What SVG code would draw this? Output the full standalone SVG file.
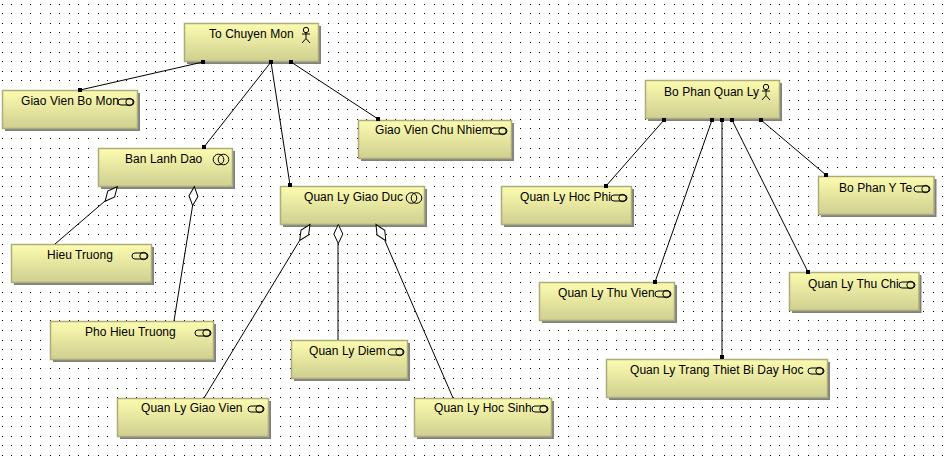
<svg xmlns="http://www.w3.org/2000/svg" width="952" height="460" viewBox="0 0 952 460">
<style>
.box{fill:url(#g);stroke:#adad7c;stroke-width:1.500}
.sh{fill:#808080}
.t{font:12px "Liberation Sans",Arial,sans-serif;fill:#000;letter-spacing:.05px}
.c{fill:none;stroke:#000;stroke-width:1}
.i{fill:none;stroke:#000;stroke-width:1}
</style>
<defs>
<pattern id="d" width="48" height="48" patternUnits="userSpaceOnUse"><path shape-rendering="crispEdges" fill="#000" d="M2,4h1v1h-1zM11,4h1v1h-1zM21,4h1v1h-1zM30,4h1v1h-1zM40,4h1v1h-1zM2,13h1v1h-1zM11,13h1v1h-1zM21,13h1v1h-1zM30,13h1v1h-1zM40,13h1v1h-1zM2,23h1v1h-1zM11,23h1v1h-1zM21,23h1v1h-1zM30,23h1v1h-1zM40,23h1v1h-1zM2,32h1v1h-1zM11,32h1v1h-1zM21,32h1v1h-1zM30,32h1v1h-1zM40,32h1v1h-1zM2,42h1v1h-1zM11,42h1v1h-1zM21,42h1v1h-1zM30,42h1v1h-1zM40,42h1v1h-1z"/></pattern>
<linearGradient id="g" x1="0" y1="0" x2="0" y2="1"><stop offset="0" stop-color="#fcfcb0"/><stop offset="1" stop-color="#cfcf90"/></linearGradient>
<marker id="dot" markerWidth="6" markerHeight="6" refX="3" refY="3" markerUnits="userSpaceOnUse"><rect x="1" y="1" width="4" height="4" fill="#000"/></marker>
<g id="oo"><circle cx="-2.500" cy="0" r="5.300" class="i"/><circle cx="2.500" cy="0" r="5.300" class="i"/></g>
<g id="cc"><rect x="-8" y="-3" width="16" height="6" rx="3" class="i"/><circle cx="3.500" cy="0" r="3.700" class="i"/></g>
<g id="actor"><circle cx="0" cy="-5" r="2.700" class="i"/><path class="i" d="M-4,-1H4M0,-2V3.500L-4,8M0,3.500L4,8"/></g>
<polygon id="dia" points="0,0 4.500,9.500 0,19 -4.500,9.500" fill="#fff" stroke="#000"/>
</defs>
<rect width="952" height="460" fill="#fff"/>
<rect width="952" height="460" fill="url(#d)"/>
<g id="n1"><rect class="sh" x="187" y="26" width="134" height="38"/><rect class="box" x="184.500" y="23.500" width="134" height="38"/><text class="t" x="209" y="38">To Chuyen Mon</text><use href="#actor" transform="translate(306,35)"/></g>
<g id="n2"><rect class="sh" x="5" y="93" width="135" height="38"/><rect class="box" x="2.500" y="90.500" width="135" height="38"/><text class="t" x="21" y="105">Giao Vien Bo Mon</text><use href="#cc" transform="translate(126,102)"/></g>
<g id="n3"><rect class="sh" x="101" y="151" width="134" height="38"/><rect class="box" x="98.500" y="148.500" width="134" height="38"/><text class="t" x="125" y="163">Ban Lanh Dao</text><use href="#oo" transform="translate(221,159.500)"/></g>
<g id="n4"><rect class="sh" x="283" y="189" width="144" height="38"/><rect class="box" x="280.500" y="186.500" width="144" height="38"/><text class="t" x="304" y="201">Quan Ly Giao Duc</text><use href="#oo" transform="translate(414,198)"/></g>
<g id="n5"><rect class="sh" x="361" y="123" width="153" height="38"/><rect class="box" x="358.500" y="120.500" width="153" height="38"/><text class="t" x="375" y="134">Giao Vien Chu Nhiem</text><use href="#cc" transform="translate(499,131)"/></g>
<g id="n6"><rect class="sh" x="14" y="247" width="140" height="38"/><rect class="box" x="11.500" y="244.500" width="140" height="38"/><text class="t" x="47" y="259">Hieu Truong</text><use href="#cc" transform="translate(140,256)"/></g>
<g id="n7"><rect class="sh" x="53" y="324" width="163" height="38"/><rect class="box" x="50.500" y="321.500" width="163" height="38"/><text class="t" x="85" y="336">Pho Hieu Truong</text><use href="#cc" transform="translate(203,333)"/></g>
<g id="n8"><rect class="sh" x="120" y="401" width="151" height="38"/><rect class="box" x="117.500" y="398.500" width="151" height="38"/><text class="t" x="141" y="412">Quan Ly Giao Vien</text><use href="#cc" transform="translate(256,409)"/></g>
<g id="n9"><rect class="sh" x="294" y="343" width="116" height="38"/><rect class="box" x="291.500" y="340.500" width="116" height="38"/><text class="t" x="309" y="355">Quan Ly Diem</text><use href="#cc" transform="translate(396,352)"/></g>
<g id="n10"><rect class="sh" x="417" y="401" width="137" height="38"/><rect class="box" x="414.500" y="398.500" width="137" height="38"/><text class="t" x="434" y="412">Quan Ly Hoc Sinh</text><use href="#cc" transform="translate(540,409)"/></g>
<g id="n11"><rect class="sh" x="648" y="83" width="134" height="38"/><rect class="box" x="645.500" y="80.500" width="134" height="38"/><text class="t" x="664" y="96">Bo Phan Quan Ly</text><use href="#actor" transform="translate(766,92)"/></g>
<g id="n12"><rect class="sh" x="504" y="189" width="130" height="38"/><rect class="box" x="501.500" y="186.500" width="130" height="38"/><text class="t" x="520" y="201">Quan Ly Hoc Phi</text><use href="#cc" transform="translate(619,198)"/></g>
<g id="n13"><rect class="sh" x="542" y="285" width="135" height="38"/><rect class="box" x="539.500" y="282.500" width="135" height="38"/><text class="t" x="558" y="297">Quan Ly Thu Vien</text><use href="#cc" transform="translate(663,294)"/></g>
<g id="n14"><rect class="sh" x="609" y="362" width="221" height="38"/><rect class="box" x="606.500" y="359.500" width="221" height="38"/><text class="t" x="630" y="374">Quan Ly Trang Thiet Bi Day Hoc</text><use href="#cc" transform="translate(816,371)"/></g>
<g id="n15"><rect class="sh" x="792" y="275" width="129.500" height="38"/><rect class="box" x="789.500" y="272.500" width="129.500" height="38"/><text class="t" x="808" y="288">Quan Ly Thu Chi</text><use href="#cc" transform="translate(907,285)"/></g>
<g id="n16"><rect class="sh" x="821" y="179" width="115.500" height="38"/><rect class="box" x="818.500" y="176.500" width="115.500" height="38"/><text class="t" x="839" y="192">Bo Phan Y Te</text><use href="#cc" transform="translate(922,189)"/></g>
<g id="connectors">
<path class="c" marker-start="url(#dot)" marker-end="url(#dot)" d="M203,62L80,90"/>
<path class="c" marker-start="url(#dot)" marker-end="url(#dot)" d="M271,62L204,147"/>
<path class="c" marker-start="url(#dot)" marker-end="url(#dot)" d="M271,62L290,185"/>
<path class="c" marker-start="url(#dot)" marker-end="url(#dot)" d="M291,62L378,119"/>
<path class="c" d="M55,244L105,201"/>
<path class="c" d="M174,321L192.700,205"/>
<path class="c" d="M204,398L299.300,241"/>
<path class="c" d="M338,340V243"/>
<path class="c" d="M453,398L385,241"/>
<path class="c" marker-start="url(#dot)" marker-end="url(#dot)" d="M664,120L606,186"/>
<path class="c" marker-start="url(#dot)" marker-end="url(#dot)" d="M712,120L655,282"/>
<path class="c" marker-start="url(#dot)" marker-end="url(#dot)" d="M722,120V357"/>
<path class="c" marker-start="url(#dot)" marker-end="url(#dot)" d="M732,120L808,272"/>
<path class="c" marker-start="url(#dot)" marker-end="url(#dot)" d="M761,120L826,175"/>
<use href="#dia" transform="translate(117.300,186.700) rotate(40)"/>
<use href="#dia" transform="translate(194.300,186.700) rotate(5)"/>
<use href="#dia" transform="translate(310,224.500) rotate(33)"/>
<use href="#dia" transform="translate(338.300,224.500)"/>
<use href="#dia" transform="translate(376,224.500) rotate(-31)"/>
</g>
</svg>
